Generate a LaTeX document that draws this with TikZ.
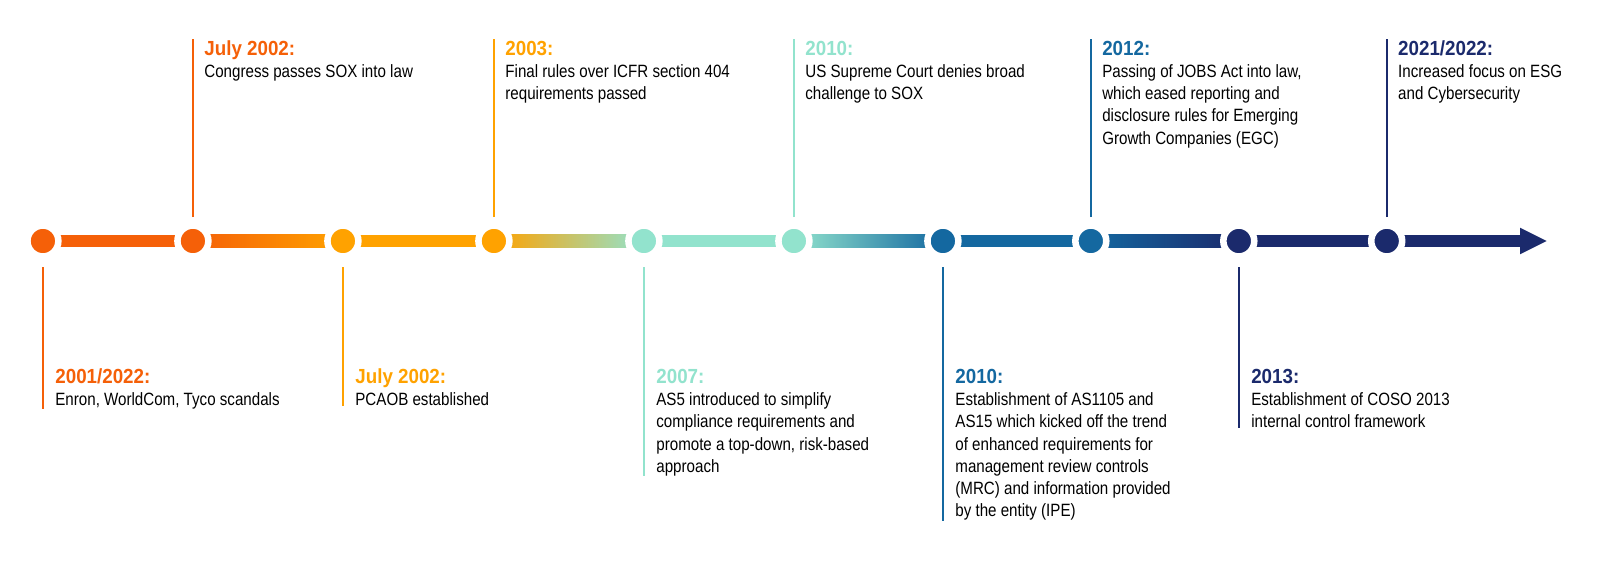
\documentclass[tikz,border=0pt]{standalone}
\usepackage{fontspec}
\setmainfont{Liberation Sans}
\newfontfamily\bodyfam[FakeStretch=0.85]{Liberation Sans}
\newfontfamily\titlefam[FakeStretch=0.92]{Liberation Sans}
\usetikzlibrary{backgrounds}
\definecolor{cA}{HTML}{F56008}
\definecolor{cB}{HTML}{FFA200}
\definecolor{cC}{HTML}{92E3CD}
\definecolor{cD}{HTML}{1468A0}
\definecolor{cE}{HTML}{1B2A6C}
\newcommand\evt[3]{\vtop{\hbox{\titlefam\bfseries\fontsize{15.3pt}{16.7pt}\selectfont\color{#1}#2}\bodyfam\fontsize{13.35pt}{16.7pt}\selectfont #3}}
\begin{document}
\begin{tikzpicture}[x=0.75pt,y=-0.75pt,
  dot/.style={circle, fill=#1, draw=white, line width=4.9pt, inner sep=0pt, outer sep=0pt, minimum size=23.2pt},
  evtxt/.style={anchor=base west, inner sep=0pt, outer sep=0pt, align=left},
  vl/.style={draw=#1, line width=1.5pt}]
\useasboundingbox (0,0) rectangle (1600,561);
% circles
\node[dot=cA] (c1) at (42.9,241) {};
\node[dot=cA] (c2) at (192.9,241) {};
\node[dot=cB] (c3) at (342.9,241) {};
\node[dot=cB] (c4) at (493.9,241) {};
\node[dot=cC] (c5) at (643.9,241) {};
\node[dot=cC] (c6) at (793.9,241) {};
\node[dot=cD] (c7) at (942.9,241) {};
\node[dot=cD] (c8) at (1090.8,241) {};
\node[dot=cE] (c9) at (1238.8,241) {};
\node[dot=cE] (c10) at (1386.7,241) {};
\coordinate (hb) at (1520,241);
\coordinate (tip) at (1546.7,241);
% bar
\begin{scope}[on background layer]
\fill[white] (0,0) rectangle (1600,561);
\fill[cA] ([yshift=4.76pt]c1.center) rectangle ([yshift=-4.76pt]c2.center);
\shade[left color=cA, right color=cB] ([yshift=4.76pt]c2.center) rectangle ([yshift=-4.76pt]c3.center);
\fill[cB] ([yshift=4.76pt]c3.center) rectangle ([yshift=-4.76pt]c4.center);
\shade[left color=cB, right color=cC] ([yshift=4.76pt]c4.center) rectangle ([yshift=-4.76pt]c5.center);
\fill[cC] ([yshift=4.76pt]c5.center) rectangle ([yshift=-4.76pt]c6.center);
\shade[left color=cC, right color=cD] ([yshift=4.76pt]c6.center) rectangle ([yshift=-4.76pt]c7.center);
\fill[cD] ([yshift=4.76pt]c7.center) rectangle ([yshift=-4.76pt]c8.center);
\shade[left color=cD, right color=cE] ([yshift=4.76pt]c8.center) rectangle ([yshift=-4.76pt]c9.center);
\fill[cE] ([yshift=4.76pt]c9.center) rectangle ([yshift=-4.76pt]hb);
\fill[cE] ([yshift=10pt]hb) -- (tip) -- ([yshift=-10pt]hb) -- cycle;
\end{scope}
% texts above
\node[evtxt] (t2) at (204.4,55) {\evt{cA}{July 2002:}{\hbox{Congress passes SOX into law}}};
\node[evtxt] (t4) at (505.4,55) {\evt{cB}{2003:}{\hbox{Final rules over ICFR section 404}\hbox{requirements passed}}};
\node[evtxt] (t6) at (805.4,55) {\evt{cC}{2010:}{\hbox{US Supreme Court denies broad}\hbox{challenge to SOX}}};
\node[evtxt] (t8) at (1102.3,55) {\evt{cD}{2012:}{\hbox{Passing of JOBS Act into law,}\hbox{which eased reporting and}\hbox{disclosure rules for Emerging}\hbox{Growth Companies (EGC)}}};
\node[evtxt] (t10) at (1398.2,55) {\evt{cE}{2021/2022:}{\hbox{Increased focus on ESG}\hbox{and Cybersecurity}}};
% texts below
\node[evtxt] (t1) at (55.4,383.3) {\evt{cA}{2001/2022:}{\hbox{Enron, WorldCom, Tyco scandals}}};
\node[evtxt] (t3) at (355.4,383.3) {\evt{cB}{July 2002:}{\hbox{PCAOB established}}};
\node[evtxt] (t5) at (656.4,383.3) {\evt{cC}{2007:}{\hbox{AS5 introduced to simplify}\hbox{compliance requirements and}\hbox{promote a top-down, risk-based}\hbox{approach}}};
\node[evtxt] (t7) at (955.4,383.3) {\evt{cD}{2010:}{\hbox{Establishment of AS1105 and}\hbox{AS15 which kicked off the trend}\hbox{of enhanced requirements for}\hbox{management review controls}\hbox{(MRC) and information provided}\hbox{by the entity (IPE)}}};
\node[evtxt] (t9) at (1251.3,383.3) {\evt{cE}{2013:}{\hbox{Establishment of COSO 2013}\hbox{internal control framework}}};
% vertical lines (up)
\coordinate (u2) at (192.9,217);
\coordinate (u4) at (493.9,217);
\coordinate (u6) at (793.9,217);
\coordinate (u8) at (1090.8,217);
\coordinate (u10) at (1386.7,217);
\draw[vl=cA] (u2) -- ([yshift=1pt]u2 |- t2.north);
\draw[vl=cB] (u4) -- ([yshift=1pt]u4 |- t4.north);
\draw[vl=cC] (u6) -- ([yshift=1pt]u6 |- t6.north);
\draw[vl=cD] (u8) -- ([yshift=1pt]u8 |- t8.north);
\draw[vl=cE] (u10) -- ([yshift=1pt]u10 |- t10.north);
% vertical lines (down)
\coordinate (d1) at (42.9,267);
\coordinate (d3) at (342.9,267);
\coordinate (d5) at (643.9,267);
\coordinate (d7) at (942.9,267);
\coordinate (d9) at (1238.8,267);
\draw[vl=cA] (d1) -- (d1 |- t1.south);
\draw[vl=cB] (d3) -- (d3 |- t3.south);
\draw[vl=cC] (d5) -- (d5 |- t5.south);
\draw[vl=cD] (d7) -- (d7 |- t7.south);
\draw[vl=cE] (d9) -- (d9 |- t9.south);
\end{tikzpicture}
\end{document}
